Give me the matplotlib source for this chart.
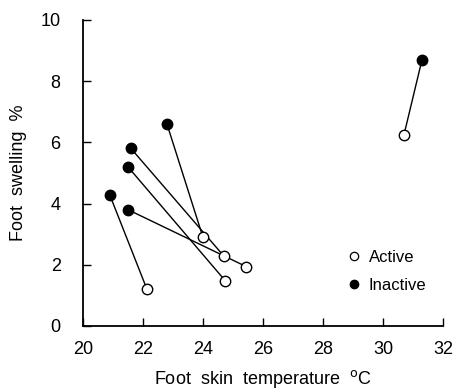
import matplotlib.pyplot as plt
from matplotlib.lines import Line2D

plt.rcParams['font.family'] = ['Liberation Sans', 'DejaVu Sans']

# paired measurements: inactive (filled) -> active (open)
inactive_temp = [31.3, 22.8, 21.6, 21.5, 20.9, 21.5]
inactive_swell = [8.7, 6.6, 5.8, 5.2, 4.27, 3.8]
active_temp = [30.7, 24.0, 24.7, 24.75, 22.13, 25.44]
active_swell = [6.25, 2.9, 2.28, 1.47, 1.21, 1.94]

x_ticks = [20, 22, 24, 26, 28, 30, 32]
y_ticks = [0, 2, 4, 6, 8, 10]

fig = plt.figure(figsize=(4.53, 3.89), dpi=100)
ax = fig.add_axes([0.183, 0.162, 0.795, 0.787])

for xi, yi, xa, ya in zip(inactive_temp, inactive_swell, active_temp, active_swell):
    ax.plot([xi, xa], [yi, ya], color='black', lw=1.0, zorder=1)

ax.plot(active_temp, active_swell, 'o', ms=7.5, mfc='white', mec='black', mew=1.0, zorder=3)
ax.plot(inactive_temp, inactive_swell, 'o', ms=7.5, mfc='black', mec='black', mew=1.0, zorder=3)

handles = [
    Line2D([], [], marker='o', ls='none', ms=6, mfc='white', mec='black', mew=0.9),
    Line2D([], [], marker='o', ls='none', ms=6, mfc='black', mec='black'),
]
ax.legend(handles, ['Active', 'Inactive'], frameon=False, fontsize=12,
          loc='lower right', bbox_to_anchor=(0.995, 0.06),
          handletextpad=0.3, labelspacing=0.75, handlelength=1.2)

ax.set_xlim(20, 32)
ax.set_ylim(0, 10)
ax.set_xticks(x_ticks)
ax.set_yticks(y_ticks)
ax.tick_params(direction='in', length=6, width=1, labelsize=13)
ax.tick_params(axis='x', pad=11)
ax.tick_params(axis='y', pad=16)
ax.spines['top'].set_visible(False)
ax.spines['right'].set_visible(False)
ax.spines['left'].set_linewidth(1.3)
ax.spines['bottom'].set_linewidth(1.3)

ax.set_xlabel('Foot  skin  temperature  $^{\\rm o}$C', fontsize=13, labelpad=7)
ax.set_ylabel('Foot  swelling  %', fontsize=13, labelpad=10)

fig.savefig('out.png', dpi=100)
